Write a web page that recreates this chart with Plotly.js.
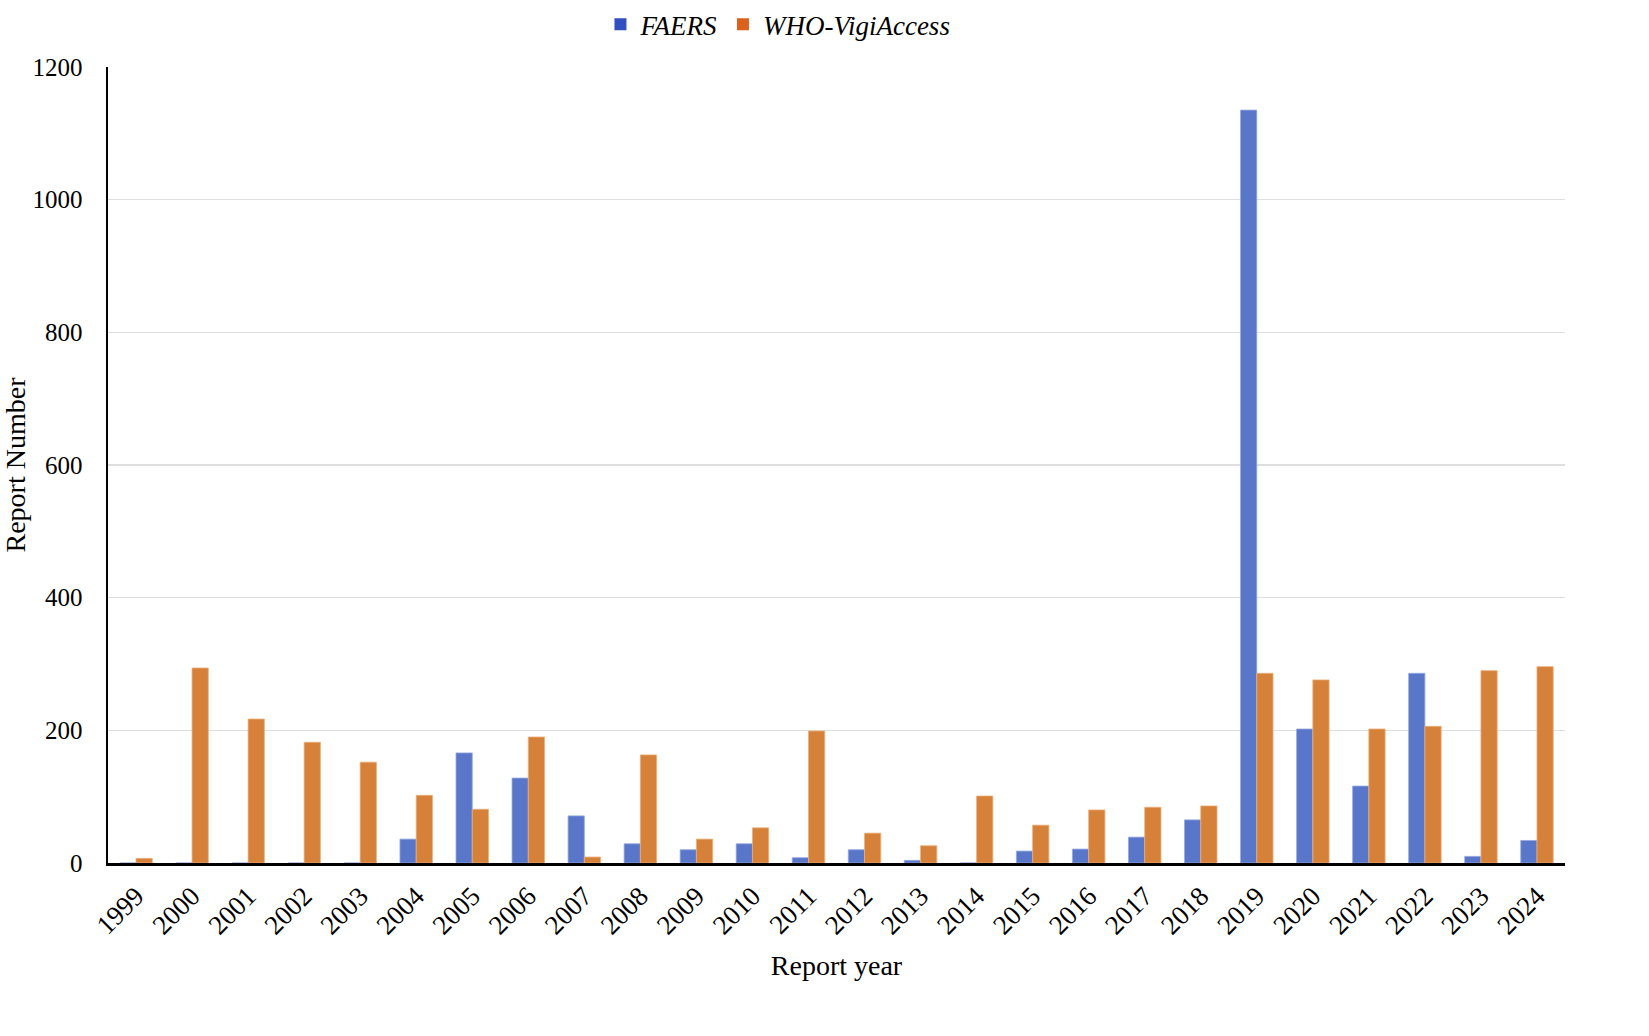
<!DOCTYPE html>
<html>
<head>
<meta charset="utf-8">
<script src="https://cdn.plot.ly/plotly-3.0.1.min.js"></script>
<style>
html, body { margin: 0; padding: 0; background: #ffffff; }
#chart { width: 1649px; height: 1036px; }
</style>
</head>
<body>
<div id="chart"></div>
<script>
const years = ["1999","2000","2001","2002","2003","2004","2005","2006","2007","2008","2009","2010","2011","2012","2013","2014","2015","2016","2017","2018","2019","2020","2021","2022","2023","2024"];
const faers = [0, 0, 0, 0, 0, 36, 166, 128, 71, 29, 20, 29, 8, 20, 4, 0, 18, 21, 39, 65, 1135, 202, 116, 286, 10, 34];
const whoVigi = [7, 294, 217, 182, 152, 102, 81, 190, 9, 163, 36, 53, 199, 45, 26, 101, 57, 80, 84, 86, 286, 276, 202, 206, 290, 296];
const yTicks = [0, 200, 400, 600, 800, 1000, 1200];

const serif = "'Liberation Serif', 'Times New Roman', serif";

const traces = [
  {
    type: "bar", name: "FAERS", x: years, y: faers, offsetgroup: "faers", showlegend: false,
    marker: { color: "rgb(90,118,201)", line: { color: "rgb(150,170,225)", width: 0.8 } }
  },
  {
    type: "bar", name: "WHO-VigiAccess", x: years, y: whoVigi, offsetgroup: "who", showlegend: false,
    marker: { color: "rgb(214,129,57)", line: { color: "rgb(235,175,120)", width: 0.8 } }
  },
  {
    type: "bar", name: "FAERS", x: [years[0]], y: [0], offsetgroup: "faers", showlegend: true,
    marker: { color: "rgb(48,80,192)", line: { width: 0 } }
  },
  {
    type: "bar", name: "WHO-VigiAccess", x: [years[0]], y: [0], offsetgroup: "who", showlegend: true,
    marker: { color: "rgb(218,98,30)", line: { width: 0 } }
  }
];

const layout = {
  width: 1649, height: 1036,
  paper_bgcolor: "#ffffff", plot_bgcolor: "#ffffff",
  margin: { l: 108, r: 84, t: 67, b: 173, autoexpand: false },
  barmode: "group", bargap: 0.42, bargroupgap: 0,
  font: { family: serif, color: "#000000", size: 25 },
  showlegend: true,
  legend: {
    orientation: "h", x: 0.338, xanchor: "left", y: 1.084, yanchor: "top",
    font: { family: serif, size: 27, color: "#000000", style: "italic" },
    tracegroupgap: 0, itemsizing: "constant", traceorder: "normal"
  },
  xaxis: {
    type: "category", tickvals: years, ticktext: years,
    tickangle: -45, tickfont: { family: serif, size: 27 },
    showline: true, linecolor: "#000000", linewidth: 2.5,
    showgrid: false, ticks: "", ticklen: 0, ticklabelstandoff: 4,
    title: { text: "Report year", font: { family: serif, size: 28 }, standoff: 16 }
  },
  yaxis: {
    range: [0, 1200], tickvals: yTicks, ticktext: yTicks.map(String),
    tickfont: { family: serif, size: 25 },
    showline: true, linecolor: "#000000", linewidth: 2.5,
    showgrid: true, gridcolor: "#dedede", gridwidth: 1.2,
    zeroline: false, ticks: "", ticklen: 0, ticklabelstandoff: 18,
    title: { text: "Report Number", font: { family: serif, size: 28 }, standoff: 14 }
  }
};

Plotly.newPlot("chart", traces, layout, { displayModeBar: false, staticPlot: true });
</script>
</body>
</html>
